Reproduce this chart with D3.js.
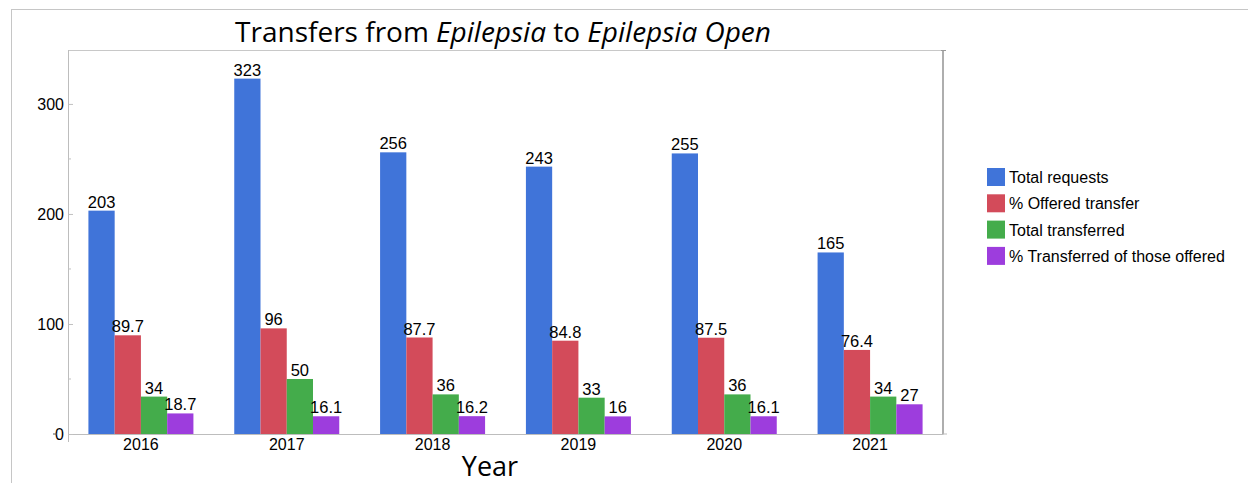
<!DOCTYPE html>
<meta charset="utf-8">
<style>
body { margin: 0; background: #fff; }
text { font-family: "Liberation Sans", Arial, sans-serif; fill: #000; }
.title, .xtitle { font-family: "Open Sans", sans-serif; }
</style>
<body>
<script src="https://d3js.org/d3.v7.min.js"></script>
<script>

// data
var years = ["2016", "2017", "2018", "2019", "2020", "2021"];
var seriesNames = ["Total requests", "% Offered transfer", "Total transferred", "% Transferred of those offered"];
var totalRequests = [203, 323, 256, 243, 255, 165];
var pctOffered = [89.7, 96, 87.7, 84.8, 87.5, 76.4];
var totalTransferred = [34, 50, 36, 33, 36, 34];
var pctTransferredOfOffered = [18.7, 16.1, 16.2, 16, 16.1, 27];
var colors = ["#4074d9", "#d34b5a", "#44ac4b", "#9d3ddd"];
var majorTicks = [0, 100, 200, 300];
var minorTicks = [50, 150, 250];

var seriesValues = [totalRequests, pctOffered, totalTransferred, pctTransferredOfOffered];

// set the dimensions of the graph
var W = 1248, H = 483;
var plot = {left: 68, right: 943, top: 50, bottom: 434};

var svg = d3.select("body").append("svg")
    .attr("width", W)
    .attr("height", H);

// outer frame
svg.append("rect")
    .attr("x", 11.5).attr("y", 9.5)
    .attr("width", W + 20).attr("height", H + 20)
    .attr("fill", "none")
    .attr("stroke", "#c6c6c6");

// scales
var x0 = d3.scaleBand().domain(years).range([plot.left, plot.right]).paddingInner(0.28).paddingOuter(0.14);
var x1 = d3.scaleBand().domain(d3.range(seriesNames.length)).range([0, x0.bandwidth()]);
var y = d3.scaleLinear().domain([0, 349]).range([plot.bottom, plot.top]);

// plot frame
svg.append("line")
    .attr("x1", plot.left).attr("x2", plot.right)
    .attr("y1", plot.top + 0.5).attr("y2", plot.top + 0.5)
    .attr("stroke", "#c8c8c8");
svg.append("line")
    .attr("x1", plot.left + 0.5).attr("x2", plot.left + 0.5)
    .attr("y1", plot.top).attr("y2", plot.bottom + 8)
    .attr("stroke", "#bdbdbd");
svg.append("line")
    .attr("x1", plot.right).attr("x2", plot.right)
    .attr("y1", plot.top).attr("y2", plot.bottom)
    .attr("stroke", "#9a9a9a")
    .attr("stroke-width", 1.6);
svg.append("line")
    .attr("x1", plot.right - 2).attr("x2", plot.right + 3)
    .attr("y1", plot.top + 0.5).attr("y2", plot.top + 0.5)
    .attr("stroke", "#9a9a9a");
svg.append("line")
    .attr("x1", plot.right).attr("x2", plot.right + 4)
    .attr("y1", plot.bottom).attr("y2", plot.bottom)
    .attr("stroke", "#bdbdbd");

// bars
var groups = svg.selectAll(".grp")
    .data(years)
  .enter().append("g")
    .attr("class", "grp")
    .attr("transform", function(d) { return "translate(" + x0(d) + ",0)"; });

groups.selectAll("rect")
    .data(function(d, i) { return seriesValues.map(function(s, k) { return {k: k, v: s[i]}; }); })
  .enter().append("rect")
    .attr("x", function(d) { return x1(d.k); })
    .attr("width", x1.bandwidth())
    .attr("y", function(d) { return y(d.v); })
    .attr("height", function(d) { return y(0) - y(d.v); })
    .attr("fill", function(d) { return colors[d.k]; });

groups.selectAll(".val")
    .data(function(d, i) { return seriesValues.map(function(s, k) { return {k: k, v: s[i]}; }); })
  .enter().append("text")
    .attr("class", "val")
    .attr("x", function(d) { return x1(d.k) + x1.bandwidth() / 2; })
    .attr("y", function(d) { return y(d.v) - 3; })
    .attr("text-anchor", "middle")
    .style("font-size", "16.5px")
    .text(function(d) { return d.v; });

// x axis
var xAxis = svg.append("g")
    .attr("transform", "translate(0," + plot.bottom + ")")
    .call(d3.axisBottom(x0).tickSize(0).tickPadding(5));
xAxis.select(".domain").attr("stroke", "#bdbdbd");
xAxis.selectAll("text").style("font-size", "16px").style("font-family", "Liberation Sans, Arial, sans-serif").attr("fill", "#000");

// y axis, ticks inward
var yAxis = svg.append("g")
    .attr("transform", "translate(" + plot.left + ",0)")
    .call(d3.axisRight(y).tickValues(majorTicks).tickSize(5).tickFormat(d3.format("d")));
yAxis.select(".domain").remove();
yAxis.selectAll("line").attr("stroke", "#c0c0c0");
yAxis.selectAll("text")
    .attr("x", -4)
    .attr("text-anchor", "end")
    .style("font-size", "16px")
    .style("font-family", "Liberation Sans, Arial, sans-serif")
    .attr("fill", "#000");

svg.append("g").selectAll("line")
    .data(minorTicks)
  .enter().append("line")
    .attr("x1", plot.left).attr("x2", plot.left + 3)
    .attr("y1", function(d) { return y(d); })
    .attr("y2", function(d) { return y(d); })
    .attr("stroke", "#c0c0c0");

// little dash next to zero
svg.append("line")
    .attr("x1", plot.left - 15).attr("x2", plot.left - 11)
    .attr("y1", y(0)).attr("y2", y(0))
    .attr("stroke", "#555");

// title
var title = svg.append("text")
    .attr("class", "title")
    .attr("x", 503)
    .attr("y", 42)
    .attr("text-anchor", "middle")
    .style("font-size", "28px");
title.append("tspan").text("Transfers from ");
title.append("tspan").style("font-style", "italic").text("Epilepsia");
title.append("tspan").text(" to ");
title.append("tspan").style("font-style", "italic").text("Epilepsia Open");

// x axis title
svg.append("text")
    .attr("class", "xtitle")
    .attr("x", 490)
    .attr("y", 476)
    .attr("text-anchor", "middle")
    .style("font-size", "27px")
    .text("Year");

// legend
var legend = svg.append("g")
    .attr("transform", "translate(987,168)");
var item = legend.selectAll(".item")
    .data(seriesNames)
  .enter().append("g")
    .attr("class", "item")
    .attr("transform", function(d, i) { return "translate(0," + (i * 26.3) + ")"; });
item.append("rect")
    .attr("width", 18)
    .attr("height", 18)
    .attr("fill", function(d, i) { return colors[i]; });
item.append("text")
    .attr("x", 22)
    .attr("y", 15)
    .style("font-size", "16px")
    .text(function(d) { return d; });

</script>
</body>
